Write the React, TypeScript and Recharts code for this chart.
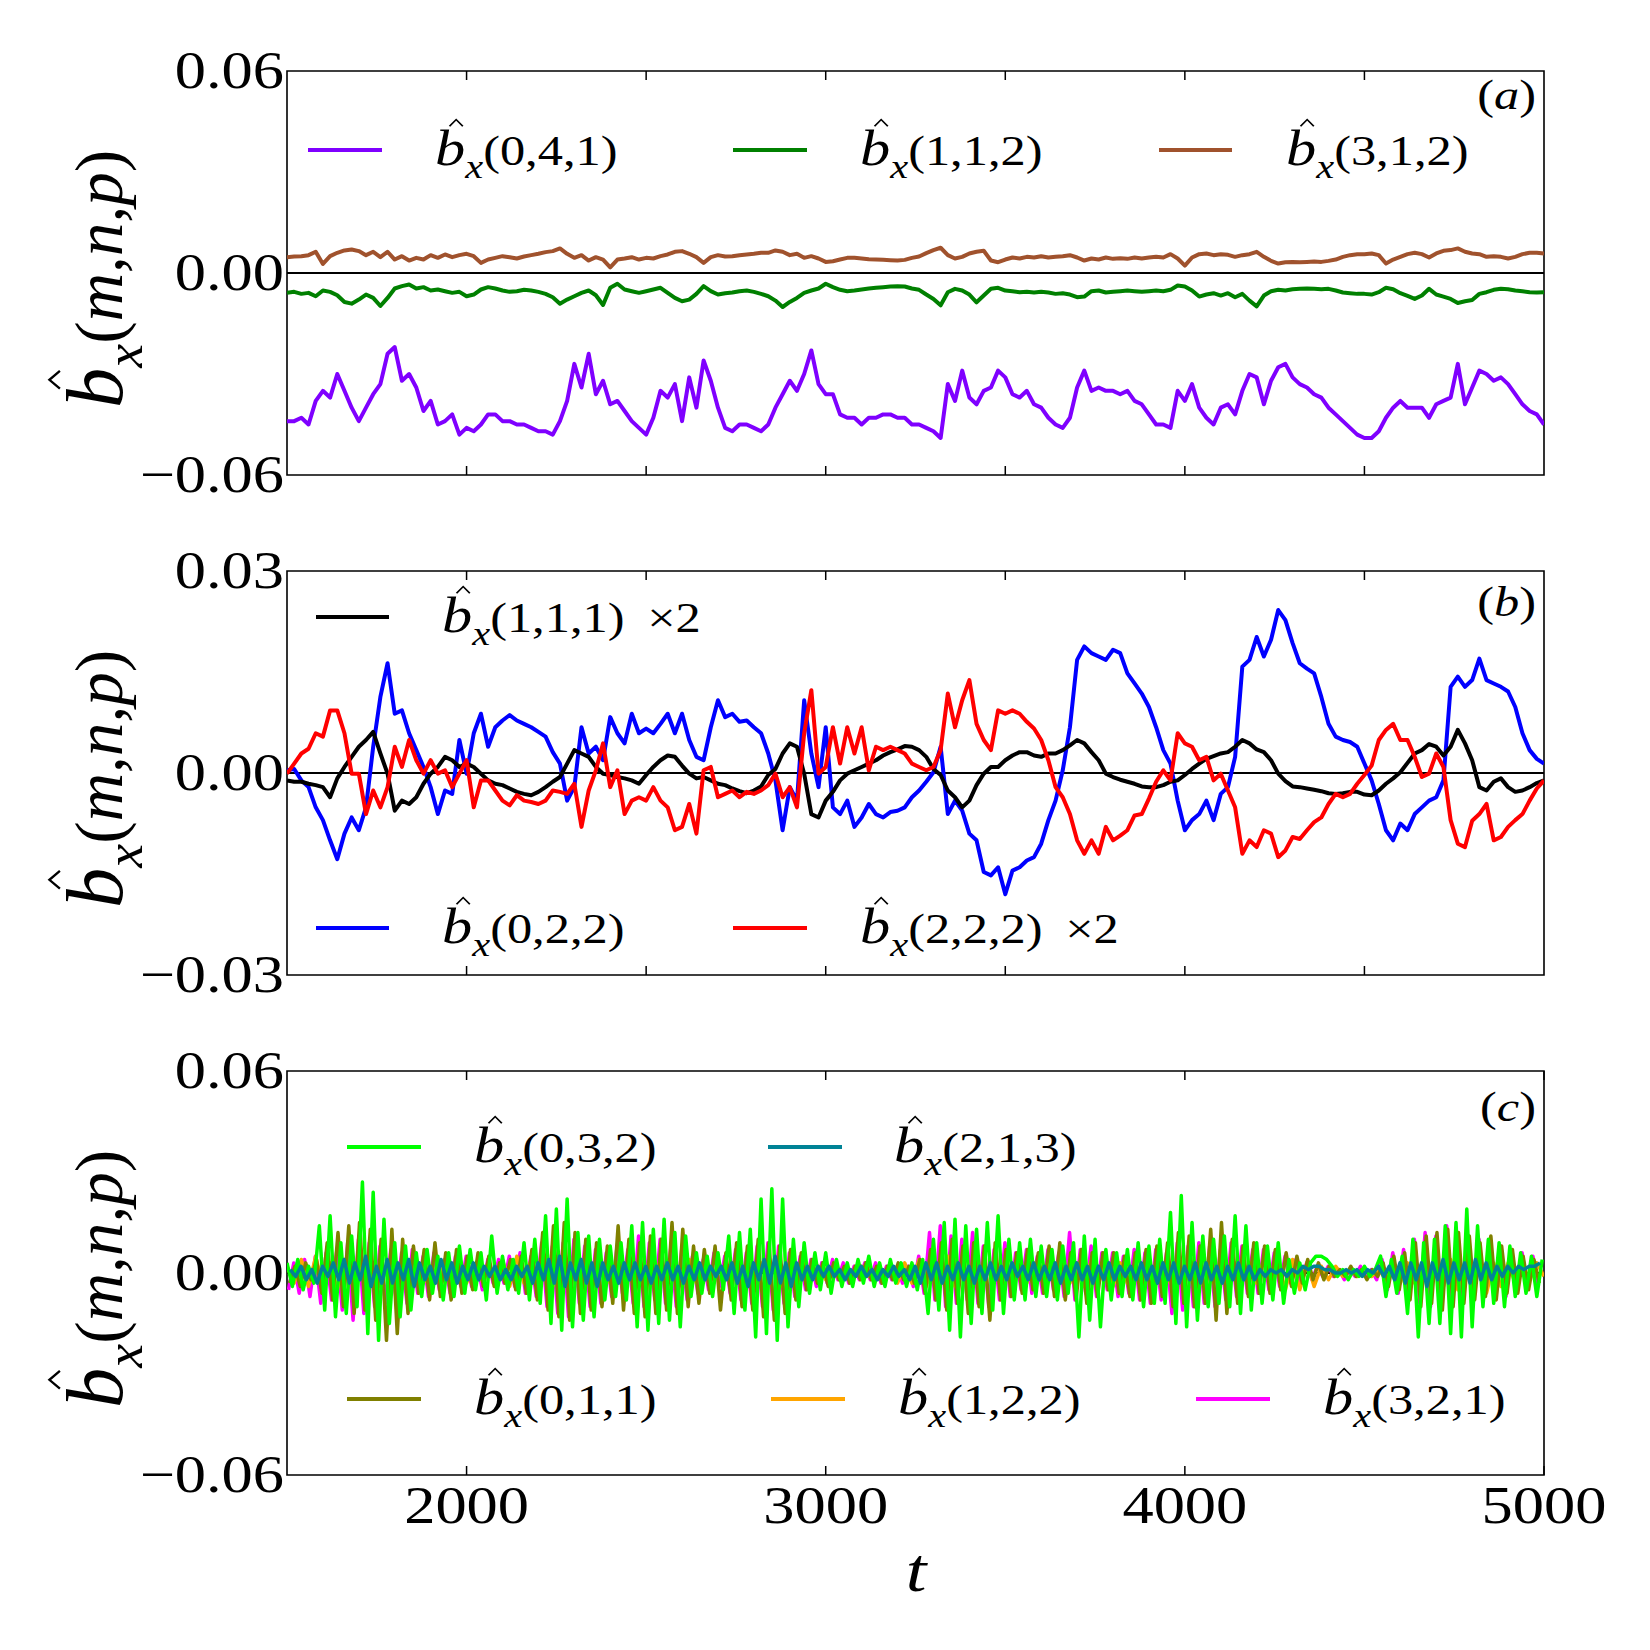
import React from "react";
import { LineChart, Line, XAxis, YAxis, ReferenceLine, ReferenceArea } from "recharts";

// ---------- time grids ----------
const T_START = 1500;
const T_END = 5000;
const AB_STEP = 20;
const AB_TIMES = Array.from({ length: 176 }, (_, k) => T_START + AB_STEP * k);

// ---------- panel (a) values, units of 1e-3 ----------
const bx041 = [
  -44,-44,-43,-45,-38,-35,-37,-30,-35,-40,
  -44,-40,-36,-33,-24,-22,-32,-30,-34,-41,
  -38,-45,-44,-42,-48,-46,-47,-45,-42,-42,
  -44,-44,-45,-45,-46,-47,-47,-48,-44,-38,
  -27,-34,-24,-36,-32,-39,-38,-41,-44,-46,
  -48,-43,-35,-37,-33,-44,-31,-40,-26,-32,
  -40,-46,-47,-45,-45,-46,-47,-45,-40,-36,
  -32,-35,-30,-23,-33,-36,-36,-42,-43,-43,
  -45,-43,-43,-42,-42,-43,-43,-45,-45,-46,
  -47,-49,-33,-38,-29,-37,-39,-35,-34,-29,
  -31,-36,-37,-35,-39,-40,-43,-45,-46,-43,
  -34,-29,-35,-34,-35,-35,-36,-35,-38,-39,
  -42,-45,-45,-46,-35,-38,-33,-40,-43,-45,
  -40,-39,-42,-35,-30,-31,-39,-32,-28,-27,
  -31,-33,-34,-36,-37,-40,-42,-44,-46,-48,
  -49,-49,-47,-43,-40,-38,-40,-40,-40,-43,
  -39,-38,-37,-27,-39,-34,-29,-30,-32,-31,
  -33,-36,-39,-41,-42,-45,
];
const bx112 = [
  -5.9,-5.6,-6.2,-5.9,-6.9,-5.2,-5.6,-6.6,-8.6,-9.1,
  -7.9,-6.4,-7.4,-9.8,-7.4,-4.6,-3.9,-3.4,-4.6,-4.2,
  -5.2,-4.9,-5.4,-5.9,-5.6,-6.9,-6.4,-4.9,-4.2,-4.6,
  -5.2,-5.6,-5.4,-5.0,-5.2,-5.6,-6.2,-7.2,-9.1,-7.9,
  -6.9,-5.9,-5.2,-6.6,-9.5,-4.4,-3.2,-4.9,-5.4,-5.9,
  -5.4,-4.9,-4.4,-5.9,-7.4,-8.4,-7.9,-6.2,-3.9,-5.4,
  -6.4,-6.0,-5.8,-5.4,-5.2,-5.6,-6.2,-6.9,-8.2,-10.1,
  -8.6,-7.4,-5.9,-5.2,-4.6,-3.2,-4.2,-5.0,-5.4,-5.2,
  -4.9,-4.6,-4.4,-4.2,-4.0,-3.9,-4.0,-4.6,-5.0,-6.4,
  -7.7,-9.6,-5.7,-4.7,-5.2,-6.4,-8.7,-6.7,-4.7,-4.4,
  -5.2,-5.4,-5.7,-5.6,-5.8,-5.6,-5.8,-6.2,-6.0,-6.4,
  -7.2,-7.0,-5.4,-5.2,-5.8,-5.6,-5.4,-5.2,-5.4,-5.6,
  -5.4,-5.2,-5.4,-5.0,-3.7,-4.0,-5.2,-7.0,-6.4,-6.0,
  -6.7,-6.0,-7.2,-6.2,-8.2,-9.9,-6.7,-5.4,-5.0,-5.2,
  -4.8,-4.7,-4.6,-4.7,-4.8,-4.7,-5.2,-5.8,-6.0,-6.2,
  -6.2,-6.4,-5.7,-4.4,-4.8,-6.0,-6.8,-7.7,-6.7,-4.7,
  -6.4,-7.0,-7.7,-8.9,-8.4,-8.0,-6.2,-5.7,-5.0,-4.7,
  -4.8,-5.2,-5.4,-5.7,-5.8,-5.7,
];
const bx312 = [
  4.7,4.9,5.0,5.3,6.3,2.7,5.0,6.0,6.7,7.0,
  6.5,5.3,6.3,4.7,6.3,4.0,5.0,3.7,4.5,4.0,
  5.3,4.5,5.5,4.7,5.3,5.7,5.0,3.0,4.0,4.5,
  5.0,4.7,4.3,4.9,5.3,5.7,6.2,6.5,7.3,5.7,
  4.5,5.3,3.7,4.7,4.0,1.7,4.0,4.3,4.7,4.0,
  4.5,4.3,5.0,5.5,6.3,6.5,5.7,4.7,3.0,4.7,
  5.3,4.9,5.0,5.3,5.5,5.7,6.0,6.0,6.7,6.3,
  5.3,5.7,4.5,5.0,4.3,3.3,3.5,4.0,4.5,4.5,
  4.3,4.1,4.0,3.9,3.8,3.7,3.9,4.5,4.9,5.9,
  6.8,7.5,5.3,4.3,4.8,5.8,6.3,6.6,3.7,3.2,
  4.0,4.6,4.3,4.8,4.6,5.0,4.6,4.8,5.0,5.3,
  4.6,3.7,4.3,4.0,4.6,4.2,4.4,4.2,4.6,4.3,
  4.6,4.8,4.6,5.6,4.3,2.2,4.6,5.6,5.8,5.3,
  5.6,5.4,4.8,5.3,5.6,6.3,4.8,3.6,2.8,3.2,
  3.3,3.2,3.3,3.4,3.3,3.6,4.0,4.8,5.3,5.6,
  5.6,5.8,5.3,2.8,4.0,4.8,5.6,6.0,5.6,4.6,
  5.8,6.6,6.8,7.3,6.3,5.8,5.6,4.8,5.0,4.8,
  4.3,4.8,5.6,6.0,6.0,5.8,
];

// ---------- panel (b) values, units of 1e-3 ----------
const bx111x2 = [
  -1.1,-1.3,-1.3,-1.6,-1.8,-2.1,-3.6,-0.8,0.9,2.4,
  3.9,4.9,6.1,2.9,-0.1,-5.6,-4.1,-4.6,-3.6,-1.6,
  -0.1,0.9,2.4,1.9,0.9,1.4,0.9,-0.1,-1.1,-1.6,
  -1.8,-2.3,-2.8,-3.1,-3.3,-2.8,-2.1,-1.3,-0.6,1.4,
  3.4,2.9,2.4,0.9,-0.1,-0.3,-0.6,-0.8,-1.1,-1.6,
  -0.3,0.9,1.9,2.6,2.4,1.1,-0.1,-0.8,-0.6,-1.1,
  -1.6,-1.8,-2.3,-2.7,-3.0,-2.6,-2.0,-0.3,0.6,2.9,
  4.4,3.9,-0.1,-6.1,-6.6,-4.1,-2.8,-1.1,-0.1,0.4,
  0.9,1.4,1.9,2.6,3.1,3.5,4.0,3.9,3.4,2.4,
  0.6,-0.3,-2.6,-3.6,-5.1,-4.1,-1.8,-0.1,0.9,0.9,
  1.9,2.6,3.1,3.1,2.6,2.4,2.9,2.9,3.4,4.1,
  4.9,4.4,3.1,1.9,-0.1,-0.6,-1.0,-1.3,-1.6,-2.0,
  -2.1,-2.1,-1.8,-1.3,-1.1,-0.3,0.6,1.4,2.1,2.5,
  2.9,3.1,3.9,4.9,4.4,3.5,3.1,1.9,-0.1,-1.2,
  -2.0,-2.1,-2.3,-2.5,-2.7,-3.0,-3.1,-3.0,-2.8,-2.8,
  -3.2,-3.3,-2.6,-1.6,-0.8,0.1,1.5,2.9,3.4,4.3,
  3.9,2.6,3.9,6.4,4.4,1.9,-2.1,-2.6,-1.3,-0.8,
  -2.1,-2.8,-2.6,-2.1,-1.5,-1.1,
];
const bx022 = [
  0.4,0.6,-1.1,-2.1,-5.1,-7.0,-10.0,-12.8,-9.0,-6.6,
  -8.5,-5.1,3.9,11.3,16.3,8.8,9.3,5.9,3.4,0.9,
  -2.1,-6.1,-2.6,-3.1,4.9,-0.1,5.9,8.8,3.9,6.8,
  7.8,8.6,7.8,7.3,6.8,6.1,5.4,3.1,1.4,-4.1,
  -2.1,6.8,2.9,3.9,1.9,8.3,5.9,4.4,8.8,5.9,
  6.6,5.9,7.3,8.8,5.9,8.8,4.9,2.4,1.9,6.8,
  10.8,8.3,8.8,7.6,7.8,6.8,5.9,2.9,-1.1,-8.5,
  -2.1,-4.1,10.8,2.9,-2.1,6.8,-5.1,-6.1,-4.1,-8.0,
  -6.6,-4.6,-6.1,-6.6,-5.8,-5.6,-5.1,-3.6,-2.6,-1.3,
  0.1,3.9,-6.1,-4.1,-5.6,-9.0,-10.0,-14.7,-15.2,-14.0,
  -18.0,-14.5,-14.0,-13.0,-12.5,-10.5,-7.0,-4.1,0.4,6.8,
  16.8,18.8,17.8,17.3,16.8,18.3,17.8,14.8,13.3,11.8,
  9.8,6.8,3.4,1.4,-4.1,-8.5,-7.0,-6.1,-4.1,-7.0,
  -3.1,-2.1,2.4,15.8,16.8,20.2,17.3,19.8,24.2,22.7,
  19.3,16.3,15.5,14.8,11.3,7.3,5.4,4.9,4.6,3.9,
  1.4,-1.1,-4.6,-8.5,-10.0,-7.5,-8.5,-6.1,-5.1,-4.1,
  -3.6,-1.1,12.8,14.3,12.8,13.8,17.0,13.8,13.3,12.8,
  12.1,9.8,5.9,3.4,2.1,1.4,
];
const bx222x2 = [
  -0.1,1.4,2.9,3.6,5.9,5.4,9.3,9.3,5.9,-0.1,
  -0.1,-6.1,-2.6,-5.1,-2.1,3.9,0.9,4.9,1.9,-0.1,
  1.9,-0.1,0.4,-2.1,-0.1,1.9,-5.1,-1.1,-1.1,-2.6,
  -4.1,-4.8,-3.3,-4.1,-4.3,-4.6,-4.1,-2.6,-2.8,-3.1,
  -1.6,-8.0,-2.6,0.4,4.4,-2.1,0.4,-6.1,-4.1,-3.6,
  -4.1,-2.1,-4.1,-5.1,-8.5,-8.0,-4.6,-9.0,0.4,0.9,
  -3.6,-3.1,-2.6,-3.6,-2.8,-3.1,-2.6,-1.8,-0.1,-3.6,
  -2.1,-5.1,5.9,12.3,-0.1,0.9,6.8,1.4,6.8,2.9,
  6.8,0.4,3.9,3.4,3.9,3.4,2.9,1.4,0.9,0.4,
  0.9,3.4,11.8,6.8,10.8,13.8,7.3,4.9,3.4,9.3,
  8.8,9.3,8.8,7.6,6.6,4.9,1.9,-2.1,-3.6,-6.1,
  -10.0,-12.0,-10.0,-12.0,-8.0,-10.0,-9.3,-8.5,-6.3,-6.1,
  -3.8,-1.3,0.4,-1.1,5.9,4.4,3.9,1.9,2.4,-1.1,
  -0.1,-2.6,-5.1,-12.0,-10.0,-11.0,-8.5,-9.0,-12.5,-11.5,
  -9.5,-9.8,-8.5,-7.3,-6.6,-4.6,-3.1,-3.6,-3.1,-1.6,
  -0.3,1.1,4.9,6.4,7.3,4.9,4.9,2.4,-0.6,-0.1,
  2.9,0.9,-7.0,-10.5,-11.0,-7.1,-6.1,-4.6,-10.0,-9.5,
  -8.0,-7.0,-6.1,-4.1,-2.3,-1.1,
];

// ---------- panel (c) values, units of 1e-3 ----------
const C032_START = 1500, C032_STEP = 15;
const bx032 = [
  3,-4,4,-5,2,-3, 14,-11,17,-13, 9,-12,11,-10, 27,-18,24, -20,16,-15, 9,-13,8,-11,
  6,-7,7,-6,5,-8,6,-7,8,-6, 7,-5,6,-8, 11,-6, 5,-5,4,-6,9,-8, 10,-9,
  17,-15,19,-17,22,-16, 12,-14,11,-13,10, -8,8,-7,9,-8, 14,-16,15,-17,13,-15,
  16,-14,12,-16,11, -7,6,-6,5,-7,6,-5, 11,-12,12,-11,13, -19,22,-18,25,-20,22,
  -16,10,-10,9, -6,6,-5,6,-6, 4,-4,3,-4,4,-3,5,-4,3,-4,4,-3,3,-4,
  3,-5,4, -12,10,-11, 15,-17,16,-19,14,-15, 13,-12,15,-11,17,-12,
  10,-8,9,-8,10,-7, 8,-7,7,-8,8,-6, 9,-19,11,-14,10,-16, 7,-8,6,-7,7,-8,
  9,-10,8,-9,10,-9, 18,-15,23,-16,15,-14, 11,-10,10,-9,11,-10, 17,-12,14,-11,
  9,-9,8,-8,9,-9, 4,-6,3,-5, 3,5,5,4,2, -1,1,-2,1,-1,2,-1,1, 5,-7,4,-6,5,
  -12,10,-19,9,-15,10, -15,14,-18,15,-19,19,-16,14, -10,10,-9,9,-10,8, -7,6,-6,5,-7,4,
];
const C011_START = 1507, C011_STEP = 15;
const bx011 = [
  -3,2,-4,3,-2,4, -6,9,-8,12, -10,14,-12,15, -11,13,-14, 10,-20,13, -18,10,-12,8,
  -6,7,-8,9,-7,6,-8,7,-6,5, -5,6,-4,5, -4,3, -3,4,-5,5,-6,7, -8,12,
  -11,14,-13,15,-14,12, -12,10,-11,9,-10, 8,-9,14,-11,10, -12,9,-13,11,-12,10,
  -11,15,-12,13,-10, 8,-9,7,-6,8,-11,6, -8,9,-10,8,-11, 10,-13,9,-14,8,-12,
  7,-8,6,-5, 4,-3,3,-4,3, -2,2,-3,2,-2,3,-2,2,-3,2,-2,3,-2,2,
  -3,4,-6, 7,-8,9, -11,10,-9,8,-12,9, -10,8,-14,9,-8,7,
  -7,6,-6,7,-5,6, -6,8,-7,9,-8,6, -8,7,-9,6,-7,6, -5,6,-6,5,-7,6,
  -8,7,-9,8,-7,9, -10,12,-9,11,-10,8, -9,13,-14,15,-12,10, -9,8,-7,9,
  -6,8,-6,7,-5,6, -4,5,-3,4, -2,3,-2,2,-1, 1,-1,2,-1,1,-2,1,-1, 3,-4,5,-5,6,
  -8,9,-10,11,-9,12, -11,13,-10,12,-9,11,-8,9, -7,11,-8,8,-6,7, -6,5,-5,4,-3,
];
const C321_START = 1504, C321_STEP = 15;
const bx321 = [
  -5,3,-6,4,-7,5, -9,6,-8,7, -11,9,-14,10, -12,9,-10, 8,-9,7, -8,6,-9,7,
  -6,5,-7,6,-5,4,-6,5,-4,5, -4,3,-5,4, -3,4, -3,5,-4,6,-6,5, -7,9,
  -10,8,-12,9,-13,10, -9,8,-10,7,-9, 6,-7,8,-6,7, -9,11,-10,9,-8,10,
  -9,8,-10,7,-8, 5,-6,4,-5,6,-4,5, -6,7,-8,6,-9, 8,-10,9,-11,8,-9,
  6,-7,5,-5, 4,-4,3,-3,4, -2,3,-3,2,-2,3,-2,3,-3,2,-2,2,-3,2,
  -4,5,-6, 12,-8,14, -10,11,-9,10,-8,12, -9,8,-10,7,-8,9,
  -7,6,-5,7,-6,5, -6,7,-5,6,-7,12, -8,7,-6,8,-7,6, -5,6,-7,5,-6,7,
  -8,6,-9,7,-8,6, -12,9,-11,8,-10,9, -9,8,-10,7,-8,9, -7,8,-6,7,
  -6,7,-5,6,-4,5, -3,4,-3,3, -2,2,-1,2,-1, 1,-2,1,-1,2,-1,1,-2, 4,-5,6,-6,7,
  -8,10,-9,12,-10,11, -9,14,-10,12,-9,11,-8,10, -7,9,-6,8,-7,6, -5,6,-4,5,-4,
];
const C122_START = 1500, C122_STEP = 20;
const bx122 = [
  2,-3,4,-4,5,-4,3,-5,4,-3,
  4,-3,3,-4,3,-2,3,-3,2,-3,
  2,-2,3,-2,2,-3,2,-2,3,-2,
  4,-4,5,-3,4,-5,3,-4,4,-3,
  3,-4,3,-3,2,-3,3,-2,3,-2,
  2,-3,4,-3,3,-4,4,-3,3,-2,
  2,-2,3,-2,2,-2,3,-3,3,-4,
  4,-3,3,-2,2,-2,1,-2,1,-1,
  2,-1,1,-2,2,-3,3,-3,4,-4,
  4,-3,5,-4,3,-4,4,-3,3,-2,
  3,-3,2,-3,3,-2,3,-3,2,-3,
  3,-4,4,-3,3,-4,3,-3,2,-3,
  3,-2,3,-3,4,-3,3,-4,3,-3,
  2,-3,3,-2,3,-3,4,-4,3,-5,
  4,-5,3,-4,2,-2,2,-1,1,-1,
  1,-1,1,-2,2,-3,3,-3,2,-3,
  3,-4,4,-5,3,-4,4,-6,3,-4,
  3,-3,2,-2,3,-1,
];
const C213_START = 1509, C213_STEP = 15;
const bx213 = [
  1,-1,2,-2,1,-3,2,-1,3,-2,
  4,-3,3,-2,5,-4,2,-3,4,-3,
  3,-2,4,-4,3,-2,2,-3,4,-2,
  3,-3,2,-2,3,-2,2,-1,2,-2,
  1,-2,2,-1,2,-3,3,-2,4,-3,
  5,-4,3,-2,4,-3,3,-4,3,-2,
  2,-3,3,-2,3,-2,2,-3,2,-2,
  3,-2,2,-3,2,-2,3,-2,2,-1,
  2,-2,3,-3,2,-4,3,-2,4,-3,
  5,-3,3,-4,3,-2,2,-2,2,-1,
  2,-1,1,-2,1,-1,2,-1,1,-2,
  1,-1,2,-1,1,-2,2,-3,3,-2,
  3,-3,2,-2,3,-2,2,-3,2,-2,
  3,-2,2,-2,3,-1,2,-2,3,-2,
  2,-2,3,-3,2,-2,3,-2,2,-3,
  2,-2,3,-2,2,-1,2,-2,3,-2,
  2,-3,3,-2,3,-3,2,-2,3,-3,
  3,-2,2,-3,2,-2,3,-2,2,-2,
  1,-1,1,0,1,-1,1,0,2,1,
  2,2,1,1,0,0,1,0,1,-1,
  1,0,2,-1,2,-2,3,-3,3,-2,
  3,-4,3,-2,4,-3,3,-2,3,-3,
  4,-2,3,-2,2,-1,2,0,2,1,
  2,2,3,
];

// ---------- ticks ----------
const X_TICKS_AB = [2000, 2500, 3000, 3500, 4000, 4500];
const X_TICKS_C = [2000, 3000, 4000, 5000];

// ---------- build tables ----------
const rowsA = AB_TIMES.map((t, k) => ({ t, m041: bx041[k] / 1000, m112: bx112[k] / 1000, m312: bx312[k] / 1000 }));
const rowsB = AB_TIMES.map((t, k) => ({ t, m111: bx111x2[k] / 1000, m022: bx022[k] / 1000, m222: bx222x2[k] / 1000 }));
const toSeries = (start: number, step: number, vals: number[]) =>
  vals.map((v, j) => ({ t: start + step * j, v: v / 1000 }));

const FONT = "'Liberation Serif', 'DejaVu Serif', serif";
const SX = 1.2; // horizontal stretch of the original figure
const PLOT_TOP = 71;
const PLOT_H = 404;
const CHART_H = 560;
const X_AXIS_H = 40;

const fmtY = (v: number) => (v < 0 ? "\u2212" : "") + Math.abs(v).toFixed(2);

function XTick(props: any) {
  const { x, y, payload, showLabel } = props;
  return (
    <g>
      <line x1={x} x2={x} y1={y} y2={y - 9} stroke="#000" strokeWidth={1.5} />
      <line x1={x} x2={x} y1={y - PLOT_H} y2={y - PLOT_H + 9} stroke="#000" strokeWidth={1.5} />
      {showLabel ? (
        <text transform={`translate(${x},${y + 48}) scale(${SX},1)`} textAnchor="middle" fontFamily={FONT} fontSize={52} fill="#000">
          {payload.value}
        </text>
      ) : null}
    </g>
  );
}

function YTick(props: any) {
  const { x, y, payload } = props;
  return (
    <text transform={`translate(${x - 3},${y + 17}) scale(${SX},1)`} textAnchor="end" fontFamily={FONT} fontSize={52} fill="#000">
      {fmtY(payload.value)}
    </text>
  );
}

type SeriesDef = { key: string; color: string; data?: any[] };

function Panel(props: { top: number; data?: any[]; series: SeriesDef[]; yMax: number; xTicks: number[]; labels: boolean; lw: number }) {
  const { top, data, series, yMax, xTicks, labels, lw } = props;
  return (
    <div style={{ position: "absolute", left: 0, top, width: 1650, height: CHART_H }}>
      <LineChart
        width={1650}
        height={CHART_H}
        data={data}
        margin={{ top: PLOT_TOP, right: 106, bottom: CHART_H - PLOT_TOP - PLOT_H - X_AXIS_H, left: 0 }}
      >
        <XAxis
          dataKey="t"
          type="number"
          domain={[T_START, T_END]}
          allowDataOverflow
          ticks={xTicks}
          interval={0}
          height={X_AXIS_H}
          axisLine={false}
          tickLine={false}
          tickSize={0}
          tickMargin={0}
          tick={(p: any) => <XTick {...p} showLabel={labels} />}
        />
        <YAxis
          type="number"
          domain={[-yMax, yMax]}
          allowDataOverflow
          ticks={[-yMax, 0, yMax]}
          interval={0}
          width={287}
          axisLine={false}
          tickLine={false}
          tickSize={0}
          tickMargin={0}
          tick={(p: any) => <YTick {...p} />}
        />
        <ReferenceLine y={0} stroke="#000" strokeWidth={2} />
        {series.map((s) => (
          <Line
            key={s.key}
            data={s.data}
            dataKey={s.data ? "v" : s.key}
            type="linear"
            stroke={s.color}
            strokeWidth={lw}
            strokeLinejoin="round"
            dot={false}
            isAnimationActive={false}
          />
        ))}
        <ReferenceArea x1={T_START} x2={T_END} y1={-yMax} y2={yMax} fill="none" fillOpacity={0} stroke="#000" strokeWidth={1.6} />
      </LineChart>
    </div>
  );
}

// ---------- legend definitions ----------
type LegendItem = { color: string; idx: string; suffix?: string; y: number; x0: number; x1: number; tx: number };
const LEGEND: LegendItem[] = [
  { color: "#7f00ff", idx: "0,4,1", y: 150, x0: 308, x1: 382, tx: 435 },
  { color: "#008000", idx: "1,1,2", y: 150, x0: 733, x1: 807, tx: 860 },
  { color: "#a0522d", idx: "3,1,2", y: 150, x0: 1159, x1: 1232, tx: 1286 },
  { color: "#000000", idx: "1,1,1", suffix: "\u00d72", y: 617, x0: 316, x1: 389, tx: 442 },
  { color: "#0000ff", idx: "0,2,2", y: 928, x0: 316, x1: 389, tx: 442 },
  { color: "#ff0000", idx: "2,2,2", suffix: "\u00d72", y: 928, x0: 733, x1: 807, tx: 860 },
  { color: "#00ff00", idx: "0,3,2", y: 1147, x0: 347, x1: 421, tx: 474 },
  { color: "#008396", idx: "2,1,3", y: 1147, x0: 768, x1: 842, tx: 894 },
  { color: "#808000", idx: "0,1,1", y: 1399, x0: 347, x1: 421, tx: 474 },
  { color: "#ffa500", idx: "1,2,2", y: 1399, x0: 771, x1: 845, tx: 898 },
  { color: "#ff00ff", idx: "3,2,1", y: 1399, x0: 1196, x1: 1270, tx: 1323 },
];

function BLabel(props: { x: number; y: number; idx: string; suffix?: string; size: number; italicArgs?: boolean }) {
  const { x, y, idx, suffix, size, italicArgs } = props;
  const bSize = size * 1.2;
  const parts = idx.split(",");
  const hx = bSize * 0.35;
  const hw = bSize * 0.11;
  const hTop = -bSize * 0.9;
  const hBot = -bSize * 0.77;
  return (
    <g transform={`translate(${x},${y}) scale(${SX},1)`}>
      <text fontFamily={FONT} fontSize={size} fill="#000">
        <tspan fontStyle="italic" fontSize={bSize}>b</tspan>
        <tspan fontStyle="italic" fontSize={size * 0.8} dy={size * 0.3}>x</tspan>
        <tspan dy={-size * 0.3}>(</tspan>
        {parts.map((p, i) => (
          <tspan key={i} fontStyle={italicArgs ? "italic" : "normal"}>
            {p}
            {i < parts.length - 1 ? "," : ""}
          </tspan>
        ))}
        <tspan>)</tspan>
        {suffix ? <tspan dx={size * 0.45}>{suffix}</tspan> : null}
      </text>
      <path
        d={`M${hx - hw},${hBot} L${hx},${hTop} L${hx + hw},${hBot}`}
        fill="none"
        stroke="#000"
        strokeWidth={Math.max(1.4, size * 0.035)}
        strokeLinejoin="miter"
      />
    </g>
  );
}

function Overlay() {
  const panelMid = [273, 773, 1273];
  const panelLab = [
    { s: "a", y: 109 },
    { s: "b", y: 616 },
    { s: "c", y: 1121 },
  ];
  return (
    <svg width={1650} height={1650} style={{ position: "absolute", left: 0, top: 0, pointerEvents: "none" }}>
      {LEGEND.map((l, i) => (
        <g key={i}>
          <line x1={l.x0} x2={l.x1} y1={l.y} y2={l.y} stroke={l.color} strokeWidth={4} />
          <BLabel x={l.tx} y={l.y + 15} idx={l.idx} suffix={l.suffix} size={42} />
        </g>
      ))}
      {panelMid.map((cy, i) => (
        <g key={"yl" + i} transform={`translate(${122},${cy}) scale(${SX},1) rotate(-90)`}>
          <g transform="translate(-135,0)">
            <BLabel x={0} y={0} idx="m,n,p" size={56} italicArgs />
          </g>
        </g>
      ))}
      {panelLab.map((p, i) => (
        <text key={"pl" + i} transform={`translate(1536,${p.y}) scale(${SX},1)`} textAnchor="end" fontFamily={FONT} fontSize={42} fill="#000">
          (<tspan fontStyle="italic">{p.s}</tspan>)
        </text>
      ))}
      <text transform={`translate(916,1591) scale(${SX},1)`} textAnchor="middle" fontFamily={FONT} fontStyle="italic" fontSize={62} fill="#000">
        t
      </text>
    </svg>
  );
}

export default function App() {
  const seriesA: SeriesDef[] = [
    { key: "m041", color: "#7f00ff" },
    { key: "m112", color: "#008000" },
    { key: "m312", color: "#a0522d" },
  ];
  const seriesB: SeriesDef[] = [
    { key: "m022", color: "#0000ff" },
    { key: "m111", color: "#000000" },
    { key: "m222", color: "#ff0000" },
  ];
  const seriesC: SeriesDef[] = [
    { key: "m321", color: "#ff00ff", data: toSeries(C321_START, C321_STEP, bx321) },
    { key: "m122", color: "#ffa500", data: toSeries(C122_START, C122_STEP, bx122) },
    { key: "m011", color: "#808000", data: toSeries(C011_START, C011_STEP, bx011) },
    { key: "m032", color: "#00ff00", data: toSeries(C032_START, C032_STEP, bx032) },
    { key: "m213", color: "#008396", data: toSeries(C213_START, C213_STEP, bx213) },
  ];
  return (
    <div style={{ position: "absolute", left: 0, top: 0, width: 1650, height: 1650, background: "#fff", overflow: "hidden" }}>
      <Panel top={0} data={rowsA} series={seriesA} yMax={0.06} xTicks={X_TICKS_AB} labels={false} lw={4} />
      <Panel top={500} data={rowsB} series={seriesB} yMax={0.03} xTicks={X_TICKS_AB} labels={false} lw={4} />
      <Panel top={1000} series={seriesC} yMax={0.06} xTicks={X_TICKS_C} labels={true} lw={3.5} />
      <Overlay />
    </div>
  );
}
